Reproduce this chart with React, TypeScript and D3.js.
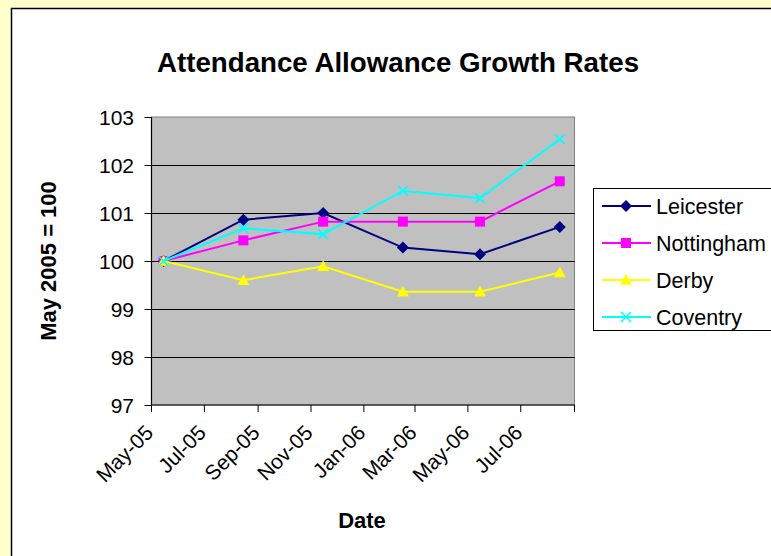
import React, { useEffect } from 'react';
import * as d3 from 'd3';

// sample dates (mid-month, quarterly)
const dates = ['2005-05-15', '2005-08-15', '2005-11-15', '2006-02-15', '2006-05-15', '2006-08-15'];

const leicester = [100, 100.86, 101.0, 100.28, 100.14, 100.71];
const nottingham = [100, 100.43, 100.82, 100.82, 100.82, 101.66];
const derby = [100, 99.6, 99.89, 99.36, 99.36, 99.76];
const coventry = [100, 100.68, 100.56, 101.46, 101.31, 102.54];

const seriesNames = ['Leicester', 'Nottingham', 'Derby', 'Coventry'];
const seriesColors = ['#000080', '#FF00FF', '#FFFF00', '#00FFFF'];
const seriesMarkers = ['diamond', 'square', 'triangle', 'cross'];

const yTicks = [97, 98, 99, 100, 101, 102, 103];
const xTickDates = ['2005-05-01', '2005-07-01', '2005-09-01', '2005-11-01', '2006-01-01', '2006-03-01', '2006-05-01', '2006-07-01', '2006-09-01'];
const xTickLabels = ['May-05', 'Jul-05', 'Sep-05', 'Nov-05', 'Jan-06', 'Mar-06', 'May-06', 'Jul-06', ''];

const FONT = '"Liberation Sans", Arial, sans-serif';

const parse = (s: string) => new Date(s + 'T00:00:00');

function Marker({ kind, x, y, color }: { kind: string; x: number; y: number; color: string }) {
  if (kind === 'diamond') {
    const r = 6;
    return <path d={`M${x},${y - r}L${x + r},${y}L${x},${y + r}L${x - r},${y}Z`} fill={color} />;
  }
  if (kind === 'square') {
    const r = 5;
    return <rect x={x - r} y={y - r} width={2 * r} height={2 * r} fill={color} />;
  }
  if (kind === 'triangle') {
    const r = 6;
    return <path d={`M${x},${y - r}L${x + r},${y + r * 0.8}L${x - r},${y + r * 0.8}Z`} fill={color} />;
  }
  const r = 5;
  return (
    <path d={`M${x - r},${y - r}L${x + r},${y + r}M${x - r},${y + r}L${x + r},${y - r}`} stroke={color} strokeWidth={1.6} fill="none" />
  );
}

export default function App() {
  useEffect(() => {
    document.body.style.margin = '0';
  }, []);

  const left = 151.5, right = 574.5, top = 117, bottom = 405;
  const x = d3.scaleTime().domain([parse('2005-05-01'), parse('2006-09-01')]).range([left, right]);
  const y = d3.scaleLinear().domain([97, 103]).range([bottom, top]);

  const allSeries = [leicester, nottingham, derby, coventry];
  const xs = dates.map(parse);
  const line = d3.line<number>().x((_, i) => x(xs[i])).y(d => y(d));

  const legendX = 593.5, legendY = 188.5;
  const rowH = 37;

  return (
    <svg width={771} height={556} style={{ display: 'block', fontFamily: FONT }}>
      <rect x={0} y={0} width={771} height={556} fill="#FFFFCC" />
      <rect x={11.5} y={8.5} width={800} height={600} fill="#FFFFFF" stroke="#000" strokeWidth={1.5} />

      <text x={398} y={72} textAnchor="middle" fontSize={27.7} fontWeight="bold">
        Attendance Allowance Growth Rates
      </text>

      {/* plot area */}
      <rect x={left} y={top} width={right - left} height={bottom - top} fill="#C0C0C0" stroke="#808080" strokeWidth={1} />
      {yTicks.slice(1, -1).map(t => (
        <line key={t} x1={left} x2={right} y1={Math.round(y(t)) + 0.5} y2={Math.round(y(t)) + 0.5} stroke="#000" strokeWidth={1} />
      ))}

      {/* y axis */}
      <line x1={left} x2={left} y1={top} y2={bottom} stroke="#000" strokeWidth={1.2} />
      {yTicks.map(t => (
        <g key={t}>
          <line x1={left - 7} x2={left} y1={Math.round(y(t)) + 0.5} y2={Math.round(y(t)) + 0.5} stroke="#000" />
          <text x={134} y={y(t)} dy="0.36em" textAnchor="end" fontSize={21}>{t}</text>
        </g>
      ))}

      {/* x axis */}
      <line x1={left} x2={right} y1={bottom} y2={bottom} stroke="#000" strokeWidth={1.2} />
      {xTickDates.map((d, i) => {
        const tx = x(parse(d));
        return (
          <g key={d}>
            <line x1={tx} x2={tx} y1={bottom} y2={bottom + 7} stroke="#000" />
            {xTickLabels[i] && (
              <text transform={`translate(${tx + 3},${bottom + 29}) rotate(-45)`} textAnchor="end" fontSize={21}>
                {xTickLabels[i]}
              </text>
            )}
          </g>
        );
      })}

      <text x={362} y={528} textAnchor="middle" fontSize={22} fontWeight="bold">Date</text>
      <text transform={`translate(56,261) rotate(-90)`} textAnchor="middle" fontSize={22} fontWeight="bold">May 2005 = 100</text>

      {/* series */}
      {allSeries.map((s, si) => (
        <g key={seriesNames[si]}>
          <path d={line(s) || ''} fill="none" stroke={seriesColors[si]} strokeWidth={2} />
          {s.map((v, i) => (
            <Marker key={i} kind={seriesMarkers[si]} x={x(xs[i])} y={y(v)} color={seriesColors[si]} />
          ))}
        </g>
      ))}

      {/* legend */}
      <rect x={legendX} y={legendY} width={200} height={142} fill="#FFFFFF" stroke="#000" strokeWidth={1} />
      {seriesNames.map((n, i) => {
        const ly = 206 + i * rowH;
        return (
          <g key={n}>
            <line x1={602} x2={651} y1={ly} y2={ly} stroke={seriesColors[i]} strokeWidth={2} />
            <Marker kind={seriesMarkers[i]} x={626} y={ly} color={seriesColors[i]} />
            <text x={656} y={ly} dy="0.36em" fontSize={21.5}>{n}</text>
          </g>
        );
      })}
    </svg>
  );
}
